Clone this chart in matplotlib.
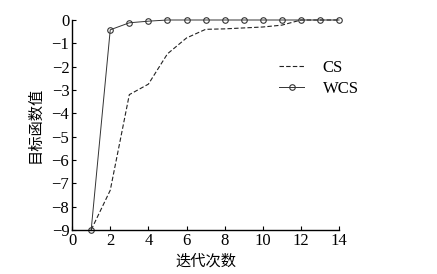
import matplotlib.pyplot as plt

plt.rcParams['font.family'] = ['Liberation Serif', 'Noto Sans CJK SC']

iters = list(range(1, 15))
cs = [-9, -7.3, -3.2, -2.75, -1.45, -0.77, -0.4, -0.38, -0.34, -0.3, -0.22, 0, 0, 0]
wcs = [-9, -0.42, -0.12, -0.05, 0, 0, 0, 0, 0, 0, 0, 0, 0, 0]

fig = plt.figure(figsize=(4.37, 2.74), dpi=100)
ax = fig.add_axes([0.165, 0.161, 0.611, 0.766])

ax.plot(iters, cs, '--', color='#222222', linewidth=0.8, dashes=(4, 2), label='CS', clip_on=False)
ax.plot(iters, wcs, '-', color='#333333', linewidth=0.7, marker='o', markersize=4,
        markerfacecolor='none', markeredgewidth=0.8, label='WCS', clip_on=False)

ax.set_xlim(0, 14)
ax.set_ylim(-9, 0)
ax.set_xticks(range(0, 15, 2))
ax.set_yticks(range(-9, 1))
ax.set_yticklabels(['\u2212%d' % abs(v) if v else '0' for v in range(-9, 1)])
ax.tick_params(direction='in', labelsize=12, length=3, width=0.8, pad=2)
for s in ['top', 'right']:
    ax.spines[s].set_visible(False)
for s in ['left', 'bottom']:
    ax.spines[s].set_linewidth(1.0)

ax.set_xlabel('迭代次数', fontsize=11, family=['Noto Sans CJK SC'], labelpad=3)
ax.set_ylabel('目标函数值', fontsize=11, family=['Noto Sans CJK SC'], labelpad=6)

ax.legend(loc='upper left', bbox_to_anchor=(0.745, 0.85), frameon=False, fontsize=12,
          handlelength=1.5, handletextpad=1.1, labelspacing=0.3, borderpad=0)

fig.savefig('out.png', dpi=100)
